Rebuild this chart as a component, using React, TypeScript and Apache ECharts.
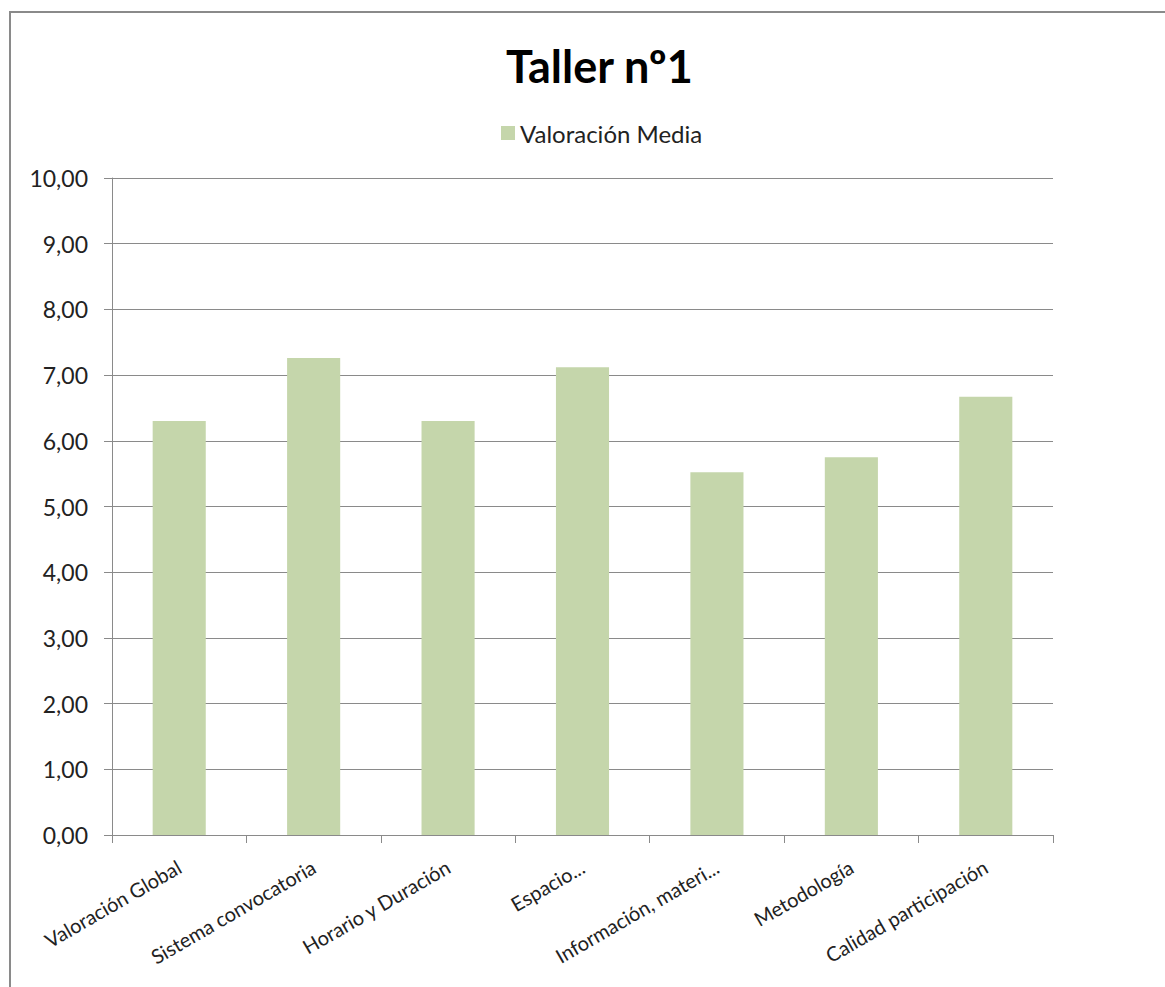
import React, { useEffect, useRef } from "react";
import * as echarts from "echarts";

const categories = [
  "Valoración Global",
  "Sistema convocatoria",
  "Horario y Duración",
  "Espacio...",
  "Información, materi...",
  "Metodología",
  "Calidad participación",
];
const values = [6.3, 7.26, 6.3, 7.12, 5.52, 5.75, 6.67];
const seriesName = "Valoración Media";
const titleText = "Taller nº1";

const FONT = "Lato, 'Open Sans', sans-serif";

export default function App() {
  const ref = useRef<HTMLDivElement>(null);
  useEffect(() => {
    if (!ref.current) return;
    const chart = echarts.init(ref.current, undefined, { renderer: "svg" });
    chart.setOption({
      animation: false,
      backgroundColor: "#ffffff",
      title: {
        text: titleText,
        left: 501,
        top: 38,
        textStyle: { fontFamily: FONT, fontSize: 45, fontWeight: "bold", color: "#000" },
      },
      legend: {
        top: 116,
        left: 496,
        itemWidth: 14,
        itemHeight: 14,
        itemGap: 8,
        icon: "rect",
        textStyle: { fontFamily: FONT, fontSize: 24, color: "#222" },
        data: [seriesName],
      },
      graphic: [
        {
          type: "rect",
          shape: { x: 10, y: 12, width: 1300, height: 1100 },
          style: { fill: "none", stroke: "#8a8a8a", lineWidth: 2 },
          silent: true,
        },
      ],
      grid: { left: 112, right: 112, top: 178, bottom: 152, containLabel: false },
      xAxis: {
        type: "category",
        data: categories,
        axisLine: { lineStyle: { color: "#8a8a8a", width: 1 } },
        axisTick: { show: true, length: 8, alignWithLabel: false, lineStyle: { color: "#8a8a8a" } },
        axisLabel: {
          rotate: 30,
          margin: 30,
          interval: 0,
          fontFamily: FONT,
          fontSize: 20,
          color: "#222",
        },
      },
      yAxis: {
        type: "value",
        min: 0,
        max: 10,
        interval: 1,
        axisLine: { show: true, lineStyle: { color: "#8a8a8a", width: 1 } },
        axisTick: { show: true, length: 8, lineStyle: { color: "#8a8a8a" } },
        splitLine: { show: true, lineStyle: { color: "#8a8a8a", width: 1 } },
        axisLabel: {
          margin: 24,
          fontFamily: FONT,
          fontSize: 23,
          color: "#222",
          formatter: (v: number) => v.toFixed(2).replace(".", ","),
        },
      },
      series: [
        {
          name: seriesName,
          type: "bar",
          data: values,
          barWidth: "39.5%",
          itemStyle: { color: "#c5d6ab" },
        },
      ],
    });
    return () => chart.dispose();
  }, []);
  return (
    <div
      ref={ref}
      style={{ position: "fixed", left: 0, top: 0, width: 1165, height: 987, background: "#fff" }}
    />
  );
}
